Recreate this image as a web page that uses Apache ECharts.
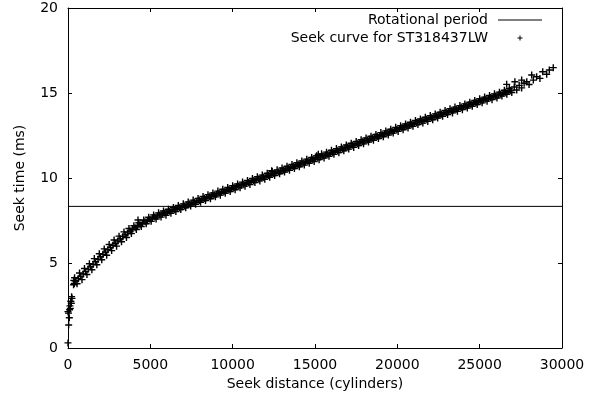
<!DOCTYPE html>
<html>
<head>
<meta charset="utf-8">
<script src="https://cdn.jsdelivr.net/npm/echarts@6/dist/echarts.min.js"></script>
<style>
  html, body { margin: 0; padding: 0; background: #fff; }
  #chart { width: 603px; height: 402px; }
</style>
</head>
<body>
<div id="chart"></div>
<script>
// Seek-time measurements and the disk's rotational period (7200 rpm).
const rotationalPeriodMs = 8.33;
const seriesNames = ['Rotational period', 'Seek curve for ST318437LW'];
const xTickValues = [0, 5000, 10000, 15000, 20000, 25000, 30000];
const yTickValues = [0, 5, 10, 15, 20];

// Seek distance in cylinders.
const seekDistance = [
  0, 40, 80, 30, 0, 100, 140, 120, 200, 170, 240, 220,
  340, 350, 380, 420,
  400, 550, 700, 850, 1000, 1150, 1300, 1450, 1600, 1750, 1900, 2050,
  2200, 2350, 2500, 2650, 2800, 2950, 3100, 3250, 3400, 3550, 3700, 3850, 4000,
  4150, 4300, 4450, 4600, 4750, 4900, 5050, 5200, 5350, 5500, 5650, 5800, 5950,
  6100, 6250, 6400, 6550, 6700, 6850, 7000, 7150, 7300, 7450, 7600, 7750, 7900,
  8050, 8200, 8350, 8500, 8650, 8800, 8950, 9100, 9250, 9400, 9550, 9700, 9850,
  10000, 10150, 10300, 10450, 10600, 10750, 10900, 11050, 11200, 11350, 11500,
  11650, 11800, 11950, 12100, 12250, 12400, 12550, 12700, 12850, 13000, 13150,
  13300, 13450, 13600, 13750, 13900, 14050, 14200, 14350, 14500, 14650, 14800,
  14950, 15100, 15250, 15400, 15550, 15700, 15850, 16000, 16150, 16300, 16450,
  16600, 16750, 16900, 17050, 17200, 17350, 17500, 17650, 17800, 17950, 18100,
  18250, 18400, 18550, 18700, 18850, 19000, 19150, 19300, 19450, 19600, 19750,
  19900, 20050, 20200, 20350, 20500, 20650, 20800, 20950, 21100, 21250, 21400,
  21550, 21700, 21850, 22000, 22150, 22300, 22450, 22600, 22750, 22900, 23050,
  23200, 23350, 23500, 23650, 23800, 23950, 24100, 24250, 24400, 24550, 24700,
  24850, 25000, 25150, 25300, 25450, 25600, 25750, 25900, 26050, 26200, 26350,
  26500, 26650, 26800, 26950,
  27100, 27250, 27400, 27550, 27700, 27860, 28000, 28160, 28260, 28460, 28660,
  28830, 29070, 29230, 29470, 26640, 27140, 27550, 4250, 12370, 15200,
  475, 625, 775, 925, 1075, 1225, 1375, 1525, 1675, 1825, 1975, 2125, 2275, 2425,
  2575, 2725, 2875, 3025, 3175, 3325, 3475, 3625, 3775, 3925, 4075, 4225, 4375,
  4525, 4675, 4825, 4975, 5125, 5275, 5425, 5575, 5725, 5875, 6025, 6175, 6325,
  6475, 6625, 6775, 6925, 7075, 7225, 7375, 7525, 7675, 7825, 7975, 8125, 8275,
  8425, 8575, 8725, 8875, 9025, 9175, 9325, 9475, 9625, 9775, 9925, 10075, 10225,
  10375, 10525, 10675, 10825, 10975, 11125, 11275, 11425, 11575, 11725, 11875,
  12025, 12175, 12325, 12475, 12625, 12775, 12925, 13075, 13225, 13375, 13525,
  13675, 13825, 13975, 14125, 14275, 14425, 14575, 14725, 14875, 15025, 15175,
  15325, 15475, 15625, 15775, 15925, 16075, 16225, 16375, 16525, 16675, 16825,
  16975, 17125, 17275, 17425, 17575, 17725, 17875, 18025, 18175, 18325, 18475,
  18625, 18775, 18925, 19075, 19225, 19375, 19525, 19675, 19825, 19975, 20125,
  20275, 20425, 20575, 20725, 20875, 21025, 21175, 21325, 21475, 21625, 21775,
  21925, 22075, 22225, 22375, 22525, 22675, 22825, 22975, 23125, 23275, 23425,
  23575, 23725, 23875, 24025, 24175, 24325, 24475, 24625, 24775, 24925, 25075,
  25225, 25375, 25525, 25675, 25825, 25975, 26125, 26275, 26425, 26575, 26725, 26875
];

// Measured seek time in milliseconds, one per distance above.
const seekTime = [
  0.30, 1.35, 1.78, 2.05, 2.14, 2.25, 2.33, 2.48, 2.63, 2.75, 2.92, 3.02,
  3.72, 3.98, 3.80, 3.95,
  4.13, 3.78, 4.41, 4.02, 4.68, 4.32, 4.96, 4.60, 5.26, 4.90, 5.54, 5.19,
  5.83, 5.46, 6.09, 5.73, 6.35, 5.99, 6.58, 6.25, 6.83, 6.50, 7.03, 6.73, 7.19,
  6.97, 7.37, 7.14, 7.53, 7.31, 7.69, 7.45, 7.83, 7.59, 7.95, 7.70, 8.06, 7.81,
  8.16, 7.93, 8.27, 8.03, 8.38, 8.14, 8.48, 8.25, 8.59, 8.35, 8.70, 8.46, 8.80,
  8.57, 8.91, 8.67, 9.02, 8.78, 9.12, 8.89, 9.23, 8.99, 9.34, 9.10, 9.44, 9.21,
  9.55, 9.31, 9.65, 9.42, 9.76, 9.52, 9.86, 9.62, 9.97, 9.73, 10.07,
  9.83, 10.17, 9.93, 10.28, 10.04, 10.38, 10.14, 10.48, 10.25, 10.59, 10.35,
  10.69, 10.45, 10.79, 10.56, 10.90, 10.66, 11.00, 10.76, 11.11, 10.87, 11.21,
  10.97, 11.31, 11.08, 11.42, 11.18, 11.52, 11.28, 11.63, 11.39, 11.73, 11.49,
  11.83, 11.60, 11.94, 11.70, 12.04, 11.80, 12.15, 11.91, 12.25, 12.01, 12.35,
  12.12, 12.46, 12.22, 12.56, 12.32, 12.67, 12.43, 12.77, 12.53, 12.87, 12.64,
  12.98, 12.74, 13.08, 12.84, 13.18, 12.94, 13.28, 13.04, 13.38, 13.14, 13.47,
  13.23, 13.57, 13.33, 13.67, 13.43, 13.77, 13.53, 13.87, 13.63, 13.97, 13.73,
  14.07, 13.83, 14.17, 13.92, 14.26, 14.02, 14.36, 14.12, 14.46, 14.22, 14.56,
  14.32, 14.66, 14.42, 14.76, 14.52, 14.85, 14.61, 14.95, 14.71, 15.05, 14.82,
  15.16, 14.93, 15.27, 15.03,
  15.35, 15.18, 15.45, 15.30, 15.57, 15.66, 15.50, 16.06, 15.76, 15.96, 15.86,
  16.25, 16.10, 16.35, 16.49, 15.51, 15.66, 15.76, 7.53, 10.43, 11.40,
  3.95, 4.08, 4.21, 4.35, 4.49, 4.64, 4.78, 4.93, 5.07, 5.22, 5.37, 5.51, 5.64, 5.78,
  5.91, 6.04, 6.16, 6.29, 6.42, 6.55, 6.66, 6.77, 6.88, 6.98, 7.08, 7.16, 7.25,
  7.33, 7.42, 7.49, 7.57, 7.64, 7.71, 7.77, 7.83, 7.88, 7.94, 7.99, 8.04, 8.09,
  8.15, 8.20, 8.25, 8.31, 8.36, 8.41, 8.47, 8.52, 8.57, 8.63, 8.68, 8.73, 8.79,
  8.84, 8.89, 8.95, 9.00, 9.05, 9.11, 9.16, 9.21, 9.27, 9.32, 9.37, 9.42, 9.48,
  9.53, 9.58, 9.63, 9.68, 9.74, 9.79, 9.84, 9.89, 9.94, 10.00, 10.05,
  10.10, 10.15, 10.20, 10.26, 10.31, 10.36, 10.41, 10.46, 10.52, 10.57, 10.62,
  10.67, 10.72, 10.78, 10.83, 10.88, 10.93, 10.98, 11.04, 11.09, 11.14, 11.19,
  11.24, 11.30, 11.35, 11.40, 11.45, 11.50, 11.56, 11.61, 11.66, 11.71, 11.76,
  11.82, 11.87, 11.92, 11.97, 12.02, 12.08, 12.13, 12.18, 12.23, 12.28, 12.34,
  12.39, 12.44, 12.49, 12.54, 12.60, 12.65, 12.70, 12.75, 12.80, 12.86, 12.91,
  12.96, 13.01, 13.06, 13.11, 13.16, 13.21, 13.26, 13.30, 13.35, 13.40, 13.45,
  13.50, 13.55, 13.60, 13.65, 13.70, 13.75, 13.80, 13.85, 13.90, 13.95, 14.00,
  14.04, 14.09, 14.14, 14.19, 14.24, 14.29, 14.34, 14.39, 14.44, 14.49, 14.54,
  14.59, 14.64, 14.68, 14.73, 14.78, 14.83, 14.88, 14.93, 14.99, 15.04, 15.10, 15.15
];

const seekPoints = seekDistance.map((d, i) => [d, seekTime[i]]);
const periodLine = [[xTickValues[0], rotationalPeriodMs], [xTickValues[xTickValues.length - 1], rotationalPeriodMs]];

const FONT = 'DejaVu Sans';
// Filled "+" glyphs for the scatter marks and the key.
const PLUS = 'path://M4,0H6V4H10V6H6V10H4V6H0V4H4Z';
const LEGEND_PLUS = 'path://M0,0M44,14M21.5,4.5H22.5V6.5H24.5V7.5H22.5V9.5H21.5V7.5H19.5V6.5H21.5Z';
const LEGEND_LINE = 'path://M0,6.5H44V7.5H0Z';

function xAxisDef(position, showLabels) {
  return {
    type: 'value', position,
    min: xTickValues[0], max: xTickValues[xTickValues.length - 1], interval: 5000,
    axisLine: { show: true, onZero: false, lineStyle: { color: '#000', width: 1 } },
    axisTick: { show: true, inside: true, length: 4, lineStyle: { color: '#000' } },
    axisLabel: {
      show: showLabels, color: '#000', fontFamily: FONT, fontSize: 14, margin: 10,
      formatter: (v) => String(v)
    },
    splitLine: { show: false },
    name: showLabels ? 'Seek distance (cylinders)' : '',
    nameLocation: 'middle', nameGap: 29,
    nameTextStyle: { color: '#000', fontFamily: FONT, fontSize: 14 }
  };
}

function yAxisDef(position, showLabels) {
  return {
    type: 'value', position,
    min: yTickValues[0], max: yTickValues[yTickValues.length - 1], interval: 5,
    axisLine: { show: true, onZero: false, lineStyle: { color: '#000', width: 1 } },
    axisTick: { show: true, inside: true, length: 4, lineStyle: { color: '#000' } },
    axisLabel: {
      show: showLabels, color: '#000', fontFamily: FONT, fontSize: 14, margin: 10,
      formatter: (v) => String(v)
    },
    splitLine: { show: false },
    name: showLabels ? 'Seek time (ms)' : '',
    nameLocation: 'middle', nameGap: 41,
    nameTextStyle: { color: '#000', fontFamily: FONT, fontSize: 14 }
  };
}

const chart = echarts.init(document.getElementById('chart'), null, { renderer: 'canvas' });
chart.setOption({
  animation: false,
  backgroundColor: '#fff',
  grid: { left: 68, right: 41, top: 8, bottom: 54 },
  xAxis: [xAxisDef('bottom', true), xAxisDef('top', false)],
  yAxis: [yAxisDef('left', true), yAxisDef('right', false)],
  legend: {
    orient: 'vertical', right: 61, top: 13, padding: 0,
    itemWidth: 44, itemHeight: 14, itemGap: 4, align: 'right',
    selectedMode: false,
    textStyle: { color: '#000', fontFamily: FONT, fontSize: 14, padding: [0, 5, 0, 0] },
    data: [
      { name: seriesNames[0], icon: LEGEND_LINE },
      { name: seriesNames[1], icon: LEGEND_PLUS }
    ]
  },
  series: [
    {
      name: seriesNames[0], type: 'line', data: periodLine,
      symbol: 'none', z: 2,
      lineStyle: { color: '#000', width: 1 },
      itemStyle: { color: '#000' }
    },
    {
      name: seriesNames[1], type: 'scatter', data: seekPoints,
      symbol: PLUS, symbolSize: 7, z: 3,
      itemStyle: { color: '#000', opacity: 1 }
    }
  ]
});
</script>
</body>
</html>
